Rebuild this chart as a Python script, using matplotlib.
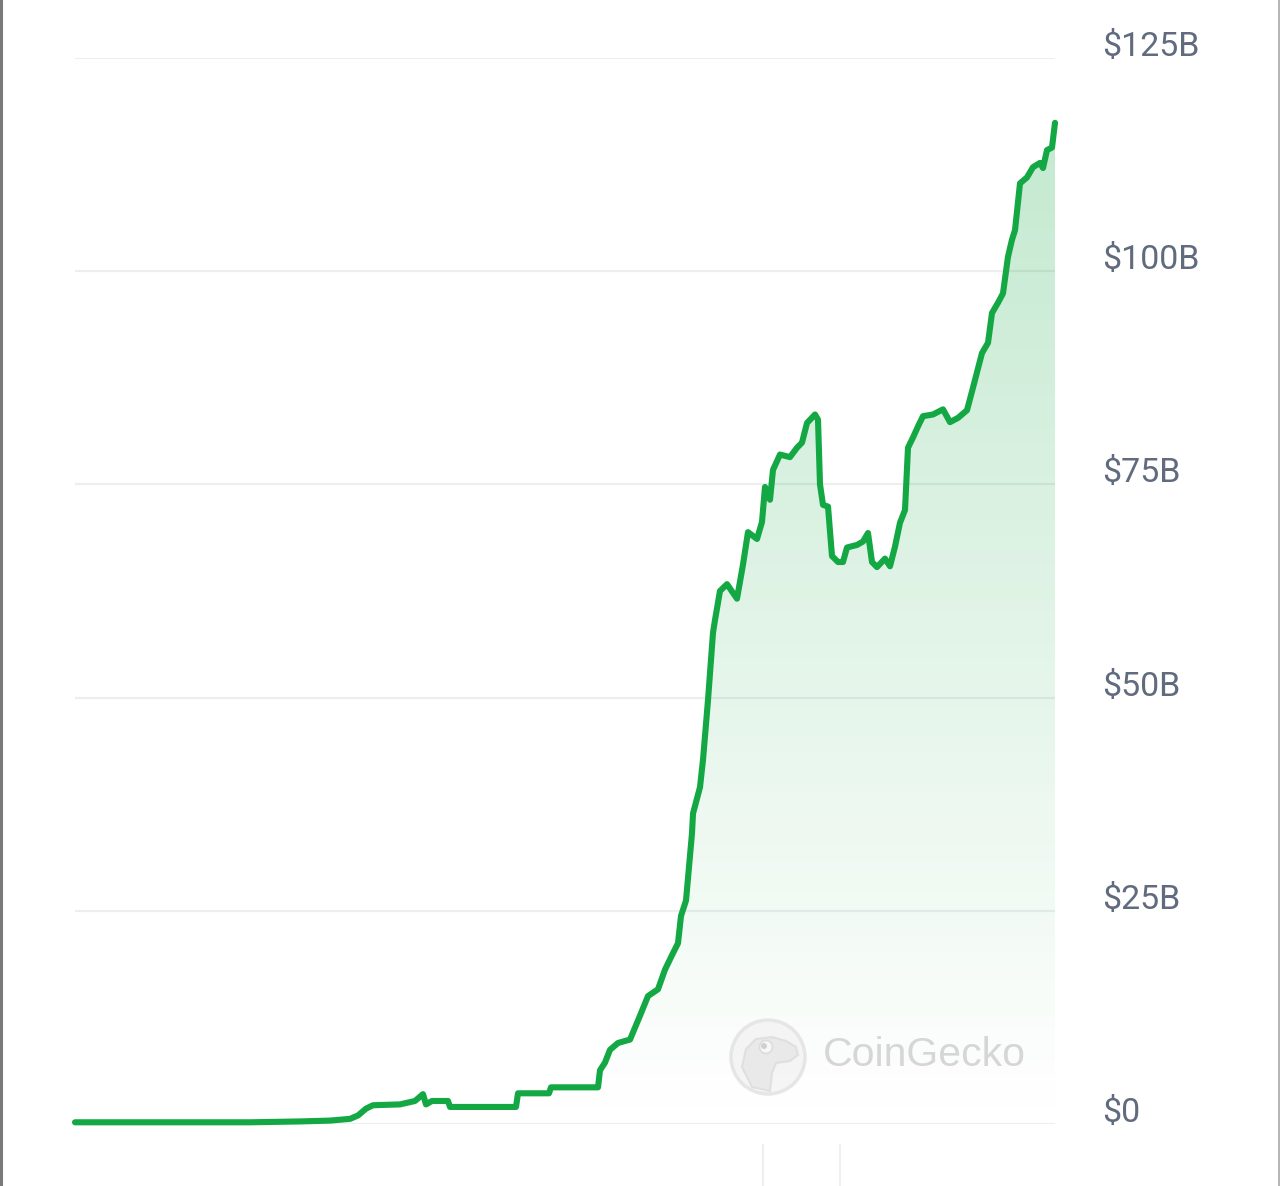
import numpy as np
import matplotlib.pyplot as plt
from matplotlib.patches import Polygon, Circle, Ellipse
from matplotlib.lines import Line2D
from matplotlib import transforms

# market cap history (x = time step, y = $B)
days = [0, 175, 225, 255, 275, 283, 291, 298, 325, 340, 348, 351, 357, 373, 375,
        441, 443, 474, 476, 523, 525, 530, 535, 543, 555, 565, 573, 583, 590, 597,
        603, 606, 611, 617, 618, 625, 628, 633, 638, 640, 645, 652, 662, 668, 673,
        682, 687, 690, 695, 698, 705, 715, 722, 727, 732, 740, 743, 745, 748, 753,
        757, 763, 768, 772, 782, 788, 793, 797, 802, 810, 815, 820, 825, 830, 833,
        838, 843, 848, 858, 868, 875, 883, 892, 897, 907, 913, 917, 923, 928, 933,
        937, 940, 945, 952, 958, 965, 968, 972, 977, 980]
market_cap_b = [0.2, 0.2, 0.3, 0.4, 0.6, 1.0, 1.8, 2.2, 2.3, 2.7, 3.5, 2.3, 2.7, 2.7, 2.0,
                2.0, 3.6, 3.6, 4.3, 4.3, 6.3, 7.2, 8.7, 9.5, 9.9, 12.7, 15.0, 15.8, 18.1, 19.8,
                21.2, 24.4, 26.2, 34.1, 36.4, 39.5, 42.7, 49.7, 57.6, 59.1, 62.5, 63.3, 61.6, 65.6, 69.4,
                68.6, 70.6, 74.7, 73.2, 76.7, 78.5, 78.2, 79.3, 79.9, 82.2, 83.2, 82.6, 75.0, 72.6, 72.4,
                66.6, 65.9, 65.9, 67.6, 67.9, 68.3, 69.3, 65.9, 65.3, 66.3, 65.4, 67.7, 70.5, 72.0, 79.3,
                80.5, 81.8, 83.0, 83.2, 83.8, 82.3, 82.8, 83.7, 85.9, 90.4, 91.6, 95.1, 96.3, 97.4, 101.7,
                103.7, 104.8, 110.3, 111.0, 112.2, 112.7, 112.1, 114.2, 114.5, 117.4]

tick_values = [0, 25, 50, 75, 100, 125]
tick_labels = ['$0', '$25B', '$50B', '$75B', '$100B', '$125B']

W, H = 1280, 1186
LINE = '#13a843'
GRID = '#eeeeee'
LABEL = '#616b7e'

fig = plt.figure(figsize=(W / 100, H / 100), dpi=100)
fig.patch.set_facecolor('white')

# plot area: x 75..1055 px, y 58..1124 px
ax = fig.add_axes([75 / W, 1 - 1124 / H, 980 / W, 1066 / H])
ax.set_facecolor('none')
for s in ax.spines.values():
    s.set_visible(False)
ax.set_xticks([])
ax.set_yticks([])

for v in tick_values:
    ax.axhline(v, color=GRID, lw=1.6, zorder=1)

# gradient fill under the line
verts = list(zip(days, market_cap_b)) + [(days[-1], 0), (days[0], 0)]
poly = Polygon(verts, closed=True, facecolor='none', edgecolor='none')
ax.add_patch(poly)
grad = np.zeros((256, 1, 4))
grad[:, 0, 0] = 19 / 255
grad[:, 0, 1] = 168 / 255
grad[:, 0, 2] = 67 / 255
grad[:, 0, 3] = np.linspace(0.0, 0.27, 256)
img = ax.imshow(grad, extent=[0, 980, 0, 125], origin='lower', aspect='auto', zorder=2)
img.set_clip_path(poly)

ax.plot(days, market_cap_b, color=LINE, lw=4.4, solid_joinstyle='round',
        solid_capstyle='round', zorder=4, clip_on=False)

ax.set_xlim(0, 980)
ax.set_ylim(0, 125)

# y labels to the right, a little above each gridline
trans = transforms.blended_transform_factory(fig.transFigure, ax.transData)
for v, lab in zip(tick_values, tick_labels):
    ax.text(1102 / W, v + 1.3, lab, transform=trans, ha='left', va='center',
            fontsize=24.5, color=LABEL, family=['Roboto', 'DejaVu Sans'], clip_on=False)

# CoinGecko watermark
wax = fig.add_axes([728 / W, 1 - 1097 / H, 80 / W, 80 / H])
wax.set_xlim(0, 80)
wax.set_ylim(0, 80)
wax.axis('off')
wax.add_patch(Circle((40, 40), 37, facecolor='#f4f4f4', edgecolor='#e4e4e4', lw=2.5, alpha=0.9))
wax.add_patch(Polygon([(14, 30), (18, 48), (28, 58), (44, 60), (58, 56), (68, 50), (70, 42),
                       (62, 36), (48, 34), (44, 24), (42, 6), (24, 10)],
                      closed=True, facecolor='#e8e8e8', edgecolor='#dedede', lw=1.5, alpha=0.9))
wax.add_patch(Ellipse((38, 50), 13, 13, facecolor='#f7f7f7', edgecolor='#dcdcdc', lw=1.2))
wax.add_patch(Circle((36, 51), 3, facecolor='#d0d0d0', edgecolor='none'))
fig.text(823 / W, 1 - 1055 / H, 'CoinGecko', ha='left', va='center', fontsize=29.5,
         color='#d6d6d6', family=['Liberation Sans', 'DejaVu Sans'])

# frame edges and small marks under the chart
fig.add_artist(Line2D([1 / W, 1 / W], [0, 1], color='#7a7a7a', lw=2.2))
fig.add_artist(Line2D([1278.5 / W, 1278.5 / W], [0, 1], color='#a8a8a8', lw=1.2))
for xp in (763, 840):
    fig.add_artist(Line2D([xp / W, xp / W], [0, 1 - 1145 / H], color='#efefef', lw=1.5))

fig.savefig('out.png', dpi=100, facecolor='white')
